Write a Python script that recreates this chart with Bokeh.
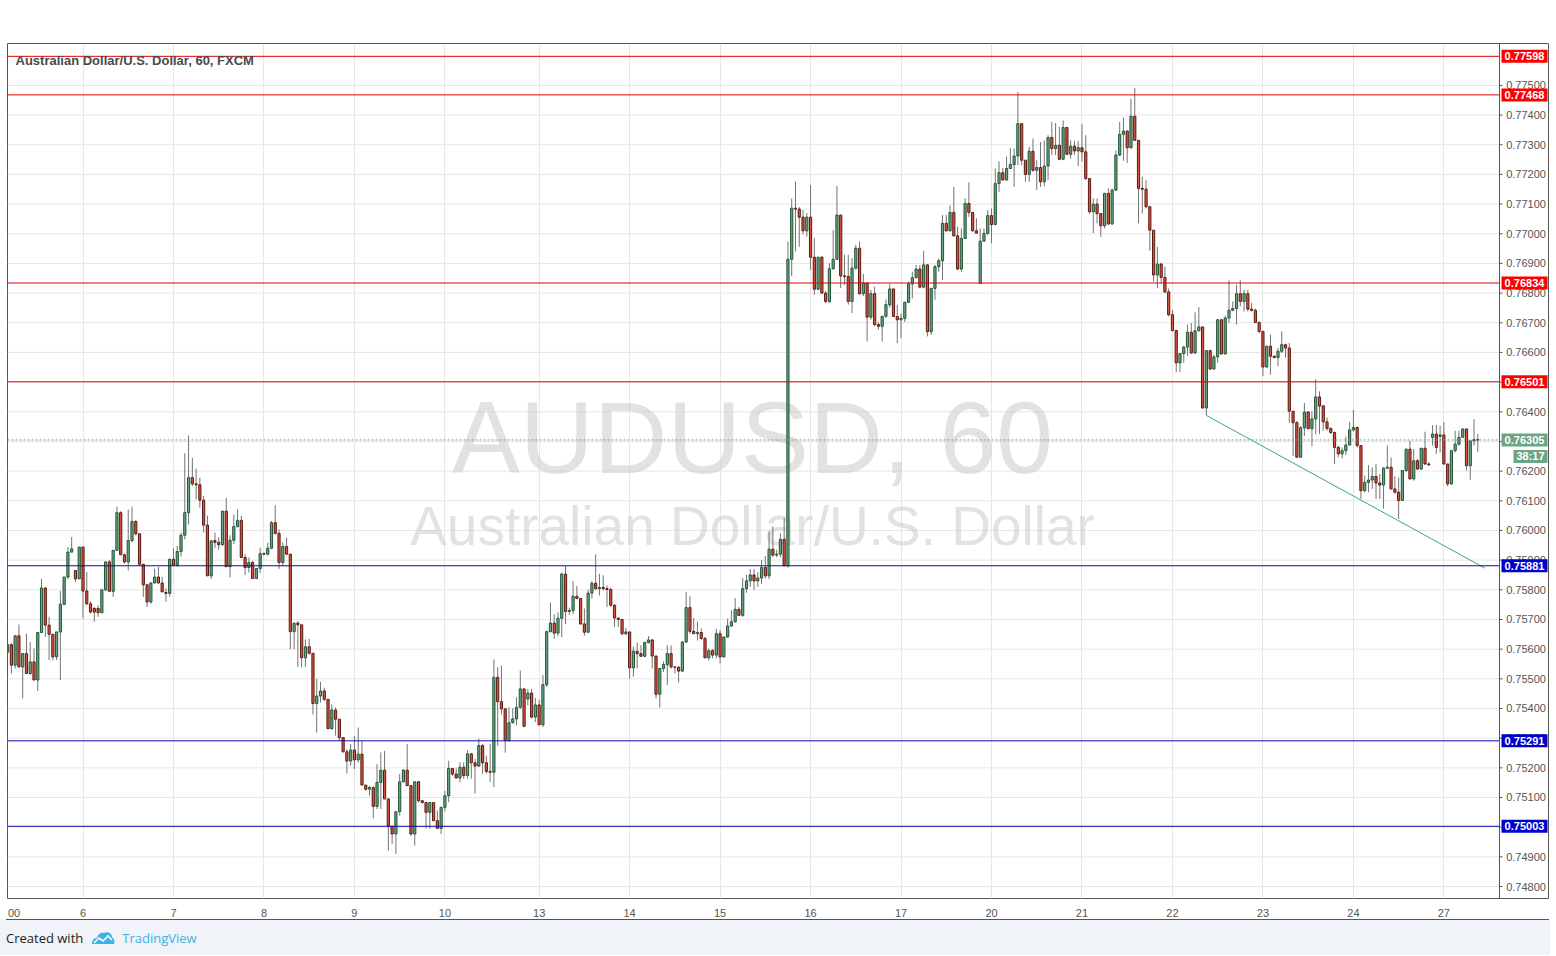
from bokeh.plotting import figure
from bokeh.models import ColumnDataSource, Label, FixedTicker, Range1d, Div
from bokeh.layouts import column
from bokeh.embed import file_html
from bokeh.resources import INLINE
from bokeh.core.properties import value

symbol_title = "Australian Dollar/U.S. Dollar, 60, FXCM"
watermark_big = "AUDUSD, 60"
watermark_small = "Australian Dollar/U.S. Dollar"

# hourly candles (index 0 = first visible candle)
opens = [
 .75590,.75615,.75546,.75645,.75540,.75585,.75518,.75557,.75496,.75656,
 .75806,.75681,.75650,.75574,.75658,.75751,.75843,.75927,.75865,.75837,
 .75944,.75796,.75753,.75737,.75737,.75723,.75800,.75894,.75795,.75933,
 .76060,.75918,.75894,.75966,.76030,.75989,.75886,.75817,.75759,.75823,
 .75843,.75823,.75791,.75788,.75903,.75883,.75929,.75984,.76060,.76178,
 .76157,.76154,.76102,.76018,.75847,.75966,.75960,.75952,.76065,.75878,
 .75967,.76013,.76034,.75909,.75875,.75892,.75838,.75872,.75922,.75920,
 .75940,.76026,.75990,.75892,.75946,.75920,.75659,.75688,.75682,.75571,
 .75608,.75586,.75417,.75442,.75459,.75431,.75332,.75395,.75364,.75302,
 .75254,.75223,.75260,.75227,.75246,.75142,.75128,.75134,.75070,.75151,
 .75192,.75095,.75003,.74977,.75052,.75153,.75192,.75140,.74977,.75153,
 .75089,.75083,.75050,.75083,.75022,.74996,.75067,.75106,.75198,.75179,
 .75166,.75202,.75174,.75247,.75217,.75206,.75275,.75217,.75188,.75185,
 .75505,.75423,.75399,.75292,.75352,.75365,.75404,.75466,.75432,.75452,
 .75371,.75412,.75345,.75480,.75659,.75688,.75654,.75704,.75853,.75727,
 .75730,.75778,.75771,.75685,.75657,.75789,.75822,.75804,.75808,.75804,
 .75801,.75748,.75705,.75700,.75652,.75658,.75537,.75593,.75585,.75576,
 .75622,.75631,.75577,.75448,.75535,.75548,.75585,.75540,.75539,.75526,
 .75624,.75740,.75660,.75652,.75656,.75636,.75571,.75595,.75580,.75652,
 .75574,.75641,.75678,.75692,.75734,.75714,.75804,.75830,.75850,.75830,
 .75840,.75875,.75847,.75937,.75917,.75920,.75970,.75881,.76914,.77086,
 .77083,.77056,.77010,.77056,.76921,.76813,.76921,.76800,.76772,.76882,
 .76914,.77063,.76858,.76856,.76772,.76884,.76951,.76798,.76834,.76719,
 .76798,.76694,.76688,.76722,.76760,.76814,.76721,.76710,.76715,.76769,
 .76831,.76852,.76881,.76820,.76895,.76670,.76816,.76889,.76909,.77035,
 .77010,.77072,.76993,.76881,.76984,.77102,.77072,.77010,.76833,.76975,
 .77001,.77061,.77031,.77169,.77206,.77181,.77220,.77233,.77262,.77371,
 .77248,.77200,.77278,.77214,.77223,.77175,.77228,.77324,.77287,.77298,
 .77251,.77358,.77268,.77295,.77279,.77290,.77276,.77186,.77074,.77100,
 .77068,.77027,.77136,.77033,.77147,.77265,.77335,.77346,.77290,.77396,
 .77315,.77153,.77150,.77091,.77012,.76861,.76898,.76853,.76804,.76727,
 .76674,.76565,.76596,.76618,.76668,.76598,.76673,.76686,.76413,.76606,
 .76544,.76585,.76710,.76595,.76716,.76742,.76748,.76798,.76772,.76798,
 .76746,.76742,.76701,.76671,.76551,.76621,.76587,.76583,.76604,.76626,
 .76615,.76402,.76363,.76247,.76346,.76399,.76343,.76376,.76450,.76420,
 .76366,.76344,.76330,.76280,.76258,.76269,.76288,.76339,.76347,.76286,
 .76134,.76162,.76170,.76182,.76160,.76153,.76210,.76213,.76140,.76129,
 .76101,.76202,.76274,.76174,.76235,.76207,.76277,.76224,.76314,.76325,
 .76317,.76322,.76224,.76157,.76269,.76291,.76314,.76342,.76218,.76302,.76306]
highs = [
 .75620,.75620,.75647,.75683,.75585,.75652,.75624,.75602,.75656,.75837,
 .75809,.75709,.75650,.75658,.75796,.75843,.75944,.75978,.75865,.75944,
 .75944,.75860,.75761,.75742,.75748,.75800,.75894,.75900,.75933,.76080,
 .76065,.75922,.76070,.76080,.76035,.75989,.75886,.75817,.75825,.75871,
 .75877,.75843,.75805,.75905,.75940,.75948,.75993,.76260,.76320,.76245,
 .76208,.76178,.76116,.76050,.75965,.75993,.75977,.76065,.76110,.75984,
 .76054,.76071,.76049,.75920,.75909,.75898,.75872,.75942,.75926,.75959,
 .76032,.76085,.76003,.75960,.75976,.75920,.75690,.75695,.75682,.75633,
 .75635,.75586,.75500,.75490,.75470,.75431,.75414,.75403,.75364,.75302,
 .75263,.75280,.75308,.75336,.75290,.75142,.75139,.75134,.75212,.75252,
 .75257,.75095,.75003,.75052,.75179,.75196,.75280,.75140,.75153,.75156,
 .75092,.75083,.75083,.75083,.75056,.75067,.75123,.75224,.75198,.75198,
 .75219,.75219,.75259,.75250,.75230,.75298,.75281,.75241,.75281,.75565,
 .75539,.75544,.75399,.75404,.75401,.75438,.75528,.75466,.75466,.75466,
 .75435,.75430,.75513,.75662,.75757,.75718,.75724,.75858,.75881,.75740,
 .75830,.75813,.75771,.75737,.75800,.75830,.75920,.75854,.75849,.75815,
 .75806,.75751,.75705,.75700,.75672,.75658,.75608,.75622,.75613,.75626,
 .75644,.75633,.75577,.75535,.75559,.75613,.75613,.75543,.75543,.75627,
 .75793,.75779,.75705,.75693,.75670,.75642,.75602,.75600,.75669,.75664,
 .75641,.75703,.75731,.75772,.75742,.75840,.75850,.75870,.75870,.75860,
 .75900,.75914,.75996,.76013,.75935,.75990,.76042,.76974,.77119,.77176,
 .77090,.77080,.77070,.77164,.76985,.76921,.76925,.76806,.76901,.77013,
 .77161,.77063,.76929,.76929,.76918,.76963,.76974,.76865,.76834,.76811,
 .76822,.76703,.76722,.76778,.76830,.76814,.76760,.76732,.76771,.76839,
 .76872,.76895,.76895,.76942,.76897,.76816,.76895,.76917,.77063,.77063,
 .77096,.77158,.77024,.77018,.77119,.77173,.77072,.77052,.77018,.77018,
 .77080,.77085,.77220,.77244,.77222,.77260,.77289,.77287,.77478,.77371,
 .77248,.77293,.77321,.77248,.77309,.77315,.77332,.77377,.77373,.77360,
 .77382,.77360,.77315,.77313,.77313,.77369,.77332,.77186,.77119,.77119,
 .77070,.77138,.77153,.77153,.77281,.77377,.77391,.77349,.77455,.77492,
 .77315,.77192,.77181,.77091,.77012,.76956,.76902,.76889,.76816,.76743,
 .76674,.76598,.76623,.76694,.76699,.76735,.76753,.76686,.76606,.76609,
 .76593,.76712,.76710,.76724,.76843,.76772,.76828,.76843,.76811,.76811,
 .76767,.76748,.76705,.76671,.76623,.76660,.76590,.76615,.76671,.76630,
 .76632,.76402,.76369,.76352,.76430,.76402,.76402,.76509,.76469,.76420,
 .76381,.76347,.76333,.76286,.76280,.76317,.76366,.76407,.76350,.76286,
 .76185,.76220,.76213,.76224,.76190,.76213,.76286,.76246,.76183,.76179,
 .76202,.76276,.76302,.76274,.76241,.76277,.76333,.76230,.76355,.76355,
 .76353,.76366,.76224,.76269,.76336,.76336,.76344,.76344,.76302,.76375,.76325]
lows = [
 .75580,.75518,.75535,.75540,.75434,.75518,.75512,.75496,.75459,.75656,
 .75641,.75563,.75563,.75563,.75496,.75748,.75837,.75927,.75826,.75837,
 .75703,.75748,.75720,.75692,.75709,.75720,.75796,.75793,.75776,.75933,
 .75918,.75888,.75865,.75959,.75983,.75882,.75776,.75742,.75753,.75821,
 .75821,.75793,.75760,.75777,.75880,.75878,.75912,.75970,.76020,.76150,
 .76105,.76077,.75993,.75847,.75836,.75940,.75935,.75948,.75878,.75842,
 .75954,.76010,.75909,.75850,.75858,.75838,.75838,.75856,.75917,.75916,
 .75937,.75987,.75870,.75880,.75917,.75600,.75600,.75540,.75538,.75541,
 .75582,.75380,.75319,.75420,.75425,.75330,.75328,.75308,.75291,.75252,
 .75181,.75207,.75196,.75218,.75142,.75123,.75106,.75030,.75061,.75061,
 .75095,.74921,.74943,.74910,.75039,.75151,.75140,.74971,.74938,.75083,
 .75080,.74996,.74994,.75022,.74994,.74977,.75053,.75084,.75173,.75163,
 .75152,.75163,.75163,.75163,.75113,.75203,.75180,.75180,.75152,.75135,
 .75275,.75380,.75251,.75288,.75349,.75343,.75398,.75337,.75410,.75366,
 .75354,.75343,.75337,.75472,.75656,.75634,.75643,.75640,.75685,.75715,
 .75718,.75768,.75682,.75645,.75657,.75770,.75800,.75781,.75798,.75742,
 .75742,.75675,.75675,.75647,.75647,.75501,.75507,.75535,.75576,.75573,
 .75619,.75535,.75434,.75403,.75523,.75479,.75535,.75518,.75488,.75524,
 .75622,.75652,.75652,.75629,.75631,.75569,.75563,.75569,.75569,.75552,
 .75571,.75638,.75675,.75690,.75712,.75709,.75790,.75810,.75800,.75810,
 .75820,.75838,.75836,.75910,.75910,.75910,.75881,.75875,.76857,.76940,
 .76956,.76998,.76990,.76878,.76794,.76810,.76798,.76766,.76766,.76879,
 .76912,.76817,.76828,.76761,.76733,.76879,.76795,.76790,.76637,.76710,
 .76688,.76677,.76637,.76716,.76751,.76721,.76631,.76648,.76702,.76766,
 .76782,.76850,.76816,.76816,.76654,.76659,.76777,.76872,.76844,.77007,
 .77007,.76990,.76878,.76872,.76982,.77057,.77007,.77000,.76833,.76973,
 .76996,.76968,.77029,.77141,.77181,.77181,.77220,.77158,.77231,.77231,
 .77175,.77175,.77209,.77147,.77158,.77160,.77181,.77265,.77265,.77248,
 .77248,.77265,.77253,.77265,.77228,.77243,.77181,.77068,.77002,.77035,
 .76990,.77018,.77030,.77030,.77145,.77262,.77246,.77239,.77287,.77313,
 .77035,.77068,.77085,.76943,.76839,.76816,.76833,.76800,.76722,.76671,
 .76533,.76533,.76565,.76589,.76596,.76596,.76671,.76410,.76387,.76542,
 .76542,.76565,.76593,.76593,.76699,.76739,.76694,.76755,.76738,.76738,
 .76738,.76699,.76665,.76520,.76548,.76525,.76580,.76553,.76598,.76582,
 .76363,.76251,.76245,.76245,.76318,.76341,.76284,.76324,.76324,.76336,
 .76336,.76325,.76224,.76246,.76243,.76255,.76286,.76333,.76280,.76106,
 .76129,.76129,.76140,.76106,.76106,.76073,.76207,.76138,.76123,.76039,
 .76101,.76196,.76171,.76168,.76204,.76204,.76221,.76218,.76286,.76258,
 .76263,.76222,.76149,.76154,.76263,.76286,.76312,.76202,.76171,.76286,.76265]
closes = [
 .75615,.75546,.75645,.75540,.75585,.75518,.75557,.75496,.75656,.75806,
 .75681,.75650,.75574,.75658,.75751,.75843,.75927,.75938,.75837,.75944,
 .75796,.75753,.75725,.75725,.75723,.75800,.75894,.75795,.75933,.76060,
 .75918,.75894,.75966,.76030,.75989,.75886,.75817,.75759,.75823,.75843,
 .75823,.75793,.75788,.75903,.75883,.75929,.75984,.76060,.76178,.76157,
 .76154,.76102,.76018,.75847,.75965,.75960,.75952,.76065,.75878,.75967,
 .76013,.76034,.75909,.75875,.75892,.75838,.75872,.75922,.75920,.75940,
 .76026,.75990,.75892,.75946,.75920,.75659,.75687,.75682,.75571,.75608,
 .75586,.75417,.75442,.75459,.75431,.75332,.75395,.75364,.75302,.75254,
 .75223,.75260,.75227,.75246,.75142,.75128,.75134,.75070,.75151,.75192,
 .75095,.75003,.74977,.75052,.75153,.75192,.75140,.74977,.75153,.75089,
 .75083,.75050,.75083,.75022,.74996,.75067,.75106,.75198,.75179,.75166,
 .75202,.75174,.75247,.75217,.75206,.75275,.75217,.75188,.75185,.75505,
 .75423,.75399,.75292,.75352,.75365,.75404,.75466,.75340,.75452,.75371,
 .75412,.75345,.75480,.75659,.75688,.75654,.75704,.75853,.75727,.75730,
 .75778,.75771,.75685,.75657,.75789,.75822,.75804,.75808,.75804,.75801,
 .75748,.75705,.75700,.75652,.75658,.75537,.75593,.75585,.75576,.75622,
 .75631,.75577,.75448,.75535,.75548,.75585,.75540,.75539,.75526,.75624,
 .75740,.75660,.75652,.75656,.75636,.75571,.75595,.75580,.75652,.75574,
 .75641,.75678,.75692,.75734,.75714,.75804,.75830,.75850,.75830,.75840,
 .75875,.75847,.75937,.75917,.75920,.75970,.75881,.76914,.77086,.77083,
 .77056,.77010,.77056,.76921,.76813,.76921,.76800,.76772,.76882,.76914,
 .77063,.76858,.76856,.76772,.76884,.76951,.76798,.76834,.76719,.76798,
 .76694,.76688,.76722,.76761,.76814,.76721,.76710,.76715,.76769,.76831,
 .76852,.76881,.76820,.76895,.76670,.76816,.76889,.76909,.77035,.77010,
 .77072,.76993,.76881,.76984,.77102,.77072,.77010,.77002,.76975,.77001,
 .77061,.77031,.77169,.77206,.77181,.77220,.77233,.77262,.77371,.77248,
 .77200,.77278,.77214,.77223,.77175,.77228,.77324,.77287,.77298,.77251,
 .77358,.77268,.77295,.77279,.77290,.77276,.77186,.77074,.77100,.77068,
 .77027,.77136,.77033,.77147,.77265,.77335,.77346,.77290,.77396,.77315,
 .77153,.77150,.77091,.77012,.76861,.76898,.76853,.76804,.76727,.76674,
 .76565,.76596,.76618,.76668,.76598,.76673,.76686,.76413,.76606,.76544,
 .76585,.76710,.76595,.76716,.76742,.76748,.76798,.76772,.76798,.76746,
 .76742,.76701,.76671,.76551,.76621,.76587,.76583,.76604,.76626,.76615,
 .76402,.76363,.76247,.76346,.76399,.76343,.76376,.76450,.76419,.76366,
 .76344,.76330,.76280,.76258,.76269,.76288,.76339,.76347,.76286,.76134,
 .76162,.76170,.76182,.76160,.76153,.76210,.76213,.76140,.76129,.76101,
 .76202,.76274,.76174,.76235,.76207,.76277,.76224,.76221,.76325,.76280,
 .76322,.76224,.76157,.76269,.76291,.76314,.76342,.76218,.76302,.76306,.76305]

# day boundaries (candle index) and labels
day_ticks = [20, 44, 68, 92, 116, 141, 165, 189, 213, 237, 261, 285, 309, 333, 357, 381]
day_labels = ["6", "7", "8", "9", "10", "13", "14", "15", "16", "17", "20", "21", "22", "23", "24", "27"]
first_tick = 1.7
first_label = "00"
price_ticks = [0.748, 0.749, 0.750, 0.751, 0.752, 0.753, 0.754, 0.755, 0.756, 0.757,
               0.758, 0.759, 0.760, 0.761, 0.762, 0.763, 0.764, 0.765, 0.766, 0.767,
               0.768, 0.769, 0.770, 0.771, 0.772, 0.773, 0.774, 0.775]
resistance_levels = [0.77598, 0.77468, 0.76834, 0.76501]
support_levels = [0.75881, 0.75291, 0.75003]
last_price = 0.76305
countdown = "38:17"
trend_x = [318.1, 391.9]
trend_y = [0.76387, 0.75873]

UP_FILL, UP_LINE = "#6ba583", "#225437"
DN_FILL, DN_LINE = "#d75442", "#5b1a13"
TXT = "#555555"

n = len(opens)
idx = list(range(n))
up = [c >= o for o, c in zip(opens, closes)]
src = ColumnDataSource(dict(
    x=idx,
    top=[max(o, c) for o, c in zip(opens, closes)],
    bottom=[min(o, c) for o, c in zip(opens, closes)],
    high=[max(h, o, c) for h, o, c in zip(highs, opens, closes)],
    low=[min(l, o, c) for l, o, c in zip(lows, opens, closes)],
    fill=[UP_FILL if u else DN_FILL for u in up],
    line=[UP_LINE if u else DN_LINE for u in up],
))

# frame spans candle area + price scale area
PX = 3.7697                      # pixels per candle
X0 = -0.03
X1 = X0 + 1542 / PX
AX = X0 + 1492 / PX              # boundary between candles and price scale
Y0, Y1 = 0.747596, 0.776412
PY = 857 / (Y1 - Y0)             # pixels per price unit

p = figure(width=1549, height=919, x_range=Range1d(X0, X1), y_range=Range1d(Y0, Y1),
           output_backend="svg", toolbar_location=None,
           min_border_left=7, min_border_right=0, min_border_top=43, min_border_bottom=19,
           background_fill_color="white", border_fill_color="white")
p.outline_line_color = TXT
p.yaxis.visible = False

ticks_all = [first_tick] + day_ticks
labels_all = [first_label] + day_labels
p.xaxis.ticker = FixedTicker(ticks=ticks_all)
p.xaxis.major_label_overrides = {t: lab for t, lab in zip(ticks_all, labels_all)}
p.xaxis.axis_line_color = None
p.xaxis.major_tick_line_color = None
p.xaxis.minor_tick_line_color = None
p.xaxis.major_label_text_font_size = "11px"
p.xaxis.major_label_text_color = TXT
p.xaxis.major_label_text_font = "Liberation Sans"
p.xaxis.major_label_standoff = 4

p.xgrid.ticker = FixedTicker(ticks=day_ticks)
p.xgrid.grid_line_color = "#e6e6e6"
p.ygrid.grid_line_color = None

# horizontal grid (candle area only)
p.segment(x0=[X0] * len(price_ticks), x1=[AX] * len(price_ticks), y0=price_ticks, y1=price_ticks,
          line_color="#e6e6e6", line_width=1)

# watermark
p.text(x=[197.6], y=[0.76313], text=[watermark_big], text_font=value("Liberation Sans"),
       text_font_size="102px", text_color="#cfcfcf", text_alpha=0.6,
       text_align="center", text_baseline="middle")
p.text(x=[197.6], y=[0.76014], text=[watermark_small], text_font=value("Liberation Sans"),
       text_font_size="55px", text_color="#cfcfcf", text_alpha=0.6,
       text_align="center", text_baseline="middle")

# candles
p.segment(x0="x", y0="low", x1="x", y1="high", source=src, line_color="#737375", line_width=1)
p.vbar(x="x", width=0.58, top="top", bottom="bottom", fill_color="fill", line_color="line",
       line_width=1, source=src)

# trend line
p.line(trend_x, trend_y, line_color="#37a39a", line_width=1)

# horizontal levels
p.segment(x0=[X0] * 4, x1=[AX] * 4, y0=resistance_levels, y1=resistance_levels,
          line_color="#e00000", line_width=1)
p.segment(x0=[X0] * 3, x1=[AX] * 3, y0=support_levels, y1=support_levels,
          line_color="#0a0aa8", line_width=1)
p.segment(x0=[X0], x1=[AX], y0=[last_price], y1=[last_price],
          line_color="#6ba583", line_width=1, line_dash="2 2")

# price scale
p.segment(x0=[AX], x1=[AX], y0=[Y0], y1=[Y1], line_color=TXT, line_width=1)
p.segment(x0=[AX] * len(price_ticks), x1=[AX + 3 / PX] * len(price_ticks),
          y0=price_ticks, y1=price_ticks, line_color=TXT, line_width=1)
p.text(x=[AX + 6.7 / PX] * len(price_ticks), y=price_ticks,
       text=[f"{t:.5f}" for t in price_ticks], text_font=value("Liberation Sans"),
       text_font_size="11px", text_color=TXT, text_align="left", text_baseline="middle")

# level labels on the price scale
BOX_CX = AX + 25 / PX
BOX_W = 46 / PX
BOX_H = 13 / PY
lv_all = resistance_levels + support_levels + [last_price]
lv_col = ["#ff0000"] * 4 + ["#0000cc"] * 3 + ["#6ba583"]
p.rect(x=[BOX_CX] * len(lv_all), y=lv_all, width=BOX_W, height=BOX_H,
       fill_color=lv_col, line_color=None)
p.text(x=[BOX_CX] * len(lv_all), y=lv_all, text=[f"{v:.5f}" for v in lv_all],
       text_font=value("Liberation Sans"), text_font_size="11px", text_font_style="bold",
       text_color="white", text_align="center", text_baseline="middle")
CD_Y = last_price - 16.5 / PY
p.rect(x=[AX + 31 / PX], y=[CD_Y], width=34 / PX, height=BOX_H, fill_color="#6ba583", line_color=None)
p.text(x=[AX + 31 / PX], y=[CD_Y], text=[countdown], text_font=value("Liberation Sans"),
       text_font_size="11px", text_font_style="bold", text_color="white",
       text_align="center", text_baseline="middle")

p.add_layout(Label(x=2.1, y=0.77584, text=symbol_title, text_font_size="13px",
                   text_font_style="bold", text_font="Liberation Sans", text_color="#4a4a4a",
                   text_align="left", text_baseline="middle"))

footer_html = (
    '<div style="border-top:1px solid #555555;margin-left:6px;width:1543px;height:0;"></div>'
    '<div style="padding:11px 0 0 6px;font-family:\'Open Sans\',sans-serif;font-size:13px;'
    'line-height:14px;color:#222;display:flex;align-items:center;">'
    '<span>Created with</span>'
    '<svg width="24" height="14" viewBox="0 0 24 14" style="margin:0 7px 0 8px">'
    '<path d="M1 13 C1 9 3 7 6 7 C7 3 10 1 13 2 C16 0 21 2 21 6 C23 7 24 10 23 13 Z" fill="#3bb3e4"/>'
    '<path d="M3 12 L8 7 L12 10 L17 5 L21 9" stroke="white" stroke-width="1.6" fill="none"/>'
    '</svg>'
    '<span style="color:#3bb3e4">TradingView</span></div>'
)
footer = Div(text=footer_html, width=1550, height=36, margin=0,
             styles={"background-color": "#f0f3f7"})

layout = column(p, footer)
open("out.html", "w").write(file_html(layout, INLINE, "AUDUSD, 60"))
